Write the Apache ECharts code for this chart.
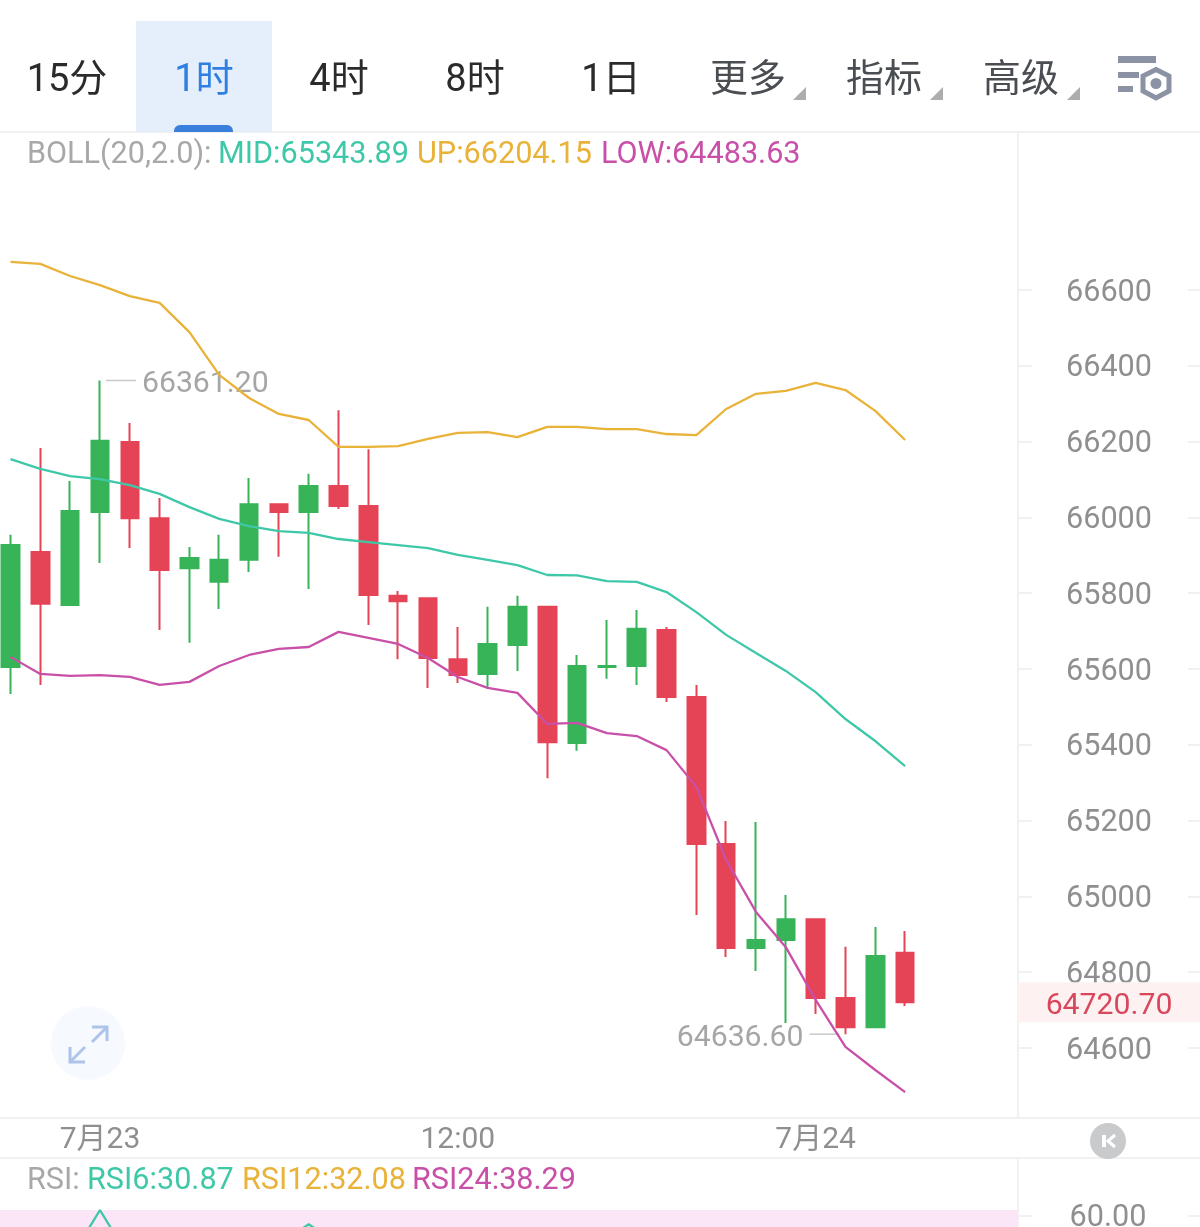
<!DOCTYPE html>
<html lang="zh">
<head>
<meta charset="utf-8">
<title>BTC 1时 K线</title>
<style>html,body{margin:0;padding:0;background:#fff}#chart{width:1200px;height:1227px}</style>
<script src="https://cdn.jsdelivr.net/npm/echarts@6/dist/echarts.min.js"></script>
</head>
<body>
<div id="chart"></div>
<script>
// Hourly candles, from 21:00 on the previous day to 03:00 on 7月24
const categories = ['21:00','22:00','23:00','7月23','01:00','02:00','03:00','04:00','05:00','06:00','07:00','08:00','09:00','10:00','11:00','12:00','13:00','14:00','15:00','16:00','17:00','18:00','19:00','20:00','21:00','22:00','23:00','7月24','01:00','02:00','03:00','04:00','05:00','06:00'];
const timeTickLabels = ['7月23','12:00','7月24'];

const opens  = [65605,65909,65769,66014,66199,65998,65866,65830,65888,66035,66014,66083,66030,65793,65787,65626,65587,65663,65764,65405,65605,65608,65703,65526,65138,64864,64885,64940,64732,64655,64851];
const closes = [65927,65772,66017,66202,65998,65861,65893,65888,66035,66014,66083,66030,65795,65779,65629,65584,65666,65764,65407,65608,65608,65706,65526,65138,64864,64885,64940,64732,64655,64843,64720.7];
const lows   = [65534,65558,65769,65880,65919,65703,65669,65758,65856,65896,65811,66022,65716,65626,65550,65563,65550,65595,65312,65384,65574,65558,65513,64951,64840,64803,64666,64690,64636.6,64655,64711];
const highs  = [65954,66183,66096,66361.2,66249,66051,65922,65954,66104,66035,66115,66283,66180,65806,65787,65711,65764,65793,65764,65637,65729,65756,65711,65558,65199,65196,65004,64940,64867,64919,64909];

const bollUp  = [66674,66669,66637,66613,66584,66566,66489,66376,66315,66273,66257,66186,66186,66188,66207,66223,66225,66212,66239,66239,66233,66233,66220,66217,66286,66326,66334,66355,66336,66281,66204.15];
const bollMid = [66154,66128,66109,66101,66085,66062,66027,65996,65977,65964,65959,65943,65935,65927,65919,65901,65888,65874,65848,65847,65832,65830,65803,65750,65690,65642,65595,65539,65468,65410,65343.89];
const bollLow = [65632,65587,65582,65584,65579,65558,65566,65608,65637,65653,65658,65698,65682,65666,65629,65579,65550,65537,65455,65458,65431,65423,65386,65289,65096,64959,64866,64727,64603,64542,64483.63];

const priceTicks = [66600,66400,66200,66000,65800,65600,65400,65200,65000,64800,64600];
const rsiTicks = [60];

// RSI6 only shows above the bottom edge around two peaks
const rsi6PeakA = [[2,45],[3,61.9],[4,45]];
const rsi6PeakB = [[9,50],[10,57],[11,50]];
const rsiLegend = [['RSI6',30.87],['RSI12',32.08],['RSI24',38.29]];

const extremes = [[3,66361.2,'right'],[28,64636.6,'left']];
const lastPrice = [[30,64720.7]];

const tabs = ['15分','1时','4时','8时','1日','更多','指标','高级'];

const FONT = 'Roboto, "Noto Sans CJK SC", sans-serif';
const TEAL = '#3fc8a8', AMBER = '#e9b238', PINK = '#c950a8';
const UP_GREEN = '#37b358', DOWN_RED = '#e54356';
const RULE = '#f1f1f1';
const TEXT_SIZE = 30.6;
const LINE_WIDTH = 2.3;

const candleData = opens.map((o, i) => [o, closes[i], lows[i], highs[i]]);

function label(text, x, y, size, fill, align) {
  return { type: 'text', z: 50, style: { text, x, y, fill, fontSize: size, fontFamily: FONT, align: align || 'left', verticalAlign: 'middle' } };
}
function hline(y) {
  return { type: 'line', z: 5, shape: { x1: 0, y1: y, x2: 1200, y2: y }, style: { stroke: RULE, lineWidth: 2 } };
}
function corner(x) {
  return { type: 'polygon', z: 50, shape: { points: [[x + 13, 87], [x + 13, 100], [x, 100]] }, style: { fill: '#adadad' } };
}

const tabCentres = [67, 204, 339, 475, 611, 748, 884, 1021];
const tabColours = ['#2b2b2b', '#2f7fe0', '#2b2b2b', '#2b2b2b', '#2b2b2b', '#4a4d52', '#4a4d52', '#4a4d52'];

const ICON = '#8a92a3', ARROW = '#aec3ea';
const chrome = [
  // active tab
  { type: 'rect', z: 40, shape: { x: 136, y: 21, width: 136, height: 111 }, style: { fill: '#e5effc' } },
  { type: 'rect', z: 41, shape: { x: 174, y: 125, width: 59, height: 7, r: [6, 6, 0, 0] }, style: { fill: '#3a7fdc' } },
  hline(132), hline(1118), hline(1158),
  corner(793), corner(930), corner(1067),
  // settings icon
  { type: 'rect', z: 50, shape: { x: 1118, y: 56, width: 38, height: 7 }, style: { fill: ICON } },
  { type: 'rect', z: 50, shape: { x: 1118, y: 72, width: 21, height: 6 }, style: { fill: ICON } },
  { type: 'rect', z: 50, shape: { x: 1118, y: 86, width: 15, height: 6 }, style: { fill: ICON } },
  { type: 'polygon', z: 50, shape: { points: [[1156, 69.5], [1169, 76], [1169, 91], [1156, 98], [1143, 91], [1143, 76]] }, style: { fill: '#fff', stroke: ICON, lineWidth: 5 } },
  { type: 'circle', z: 51, shape: { cx: 1156, cy: 83.5, r: 5.5 }, style: { fill: ICON } },
  // expand button
  { type: 'circle', z: 50, shape: { cx: 88, cy: 1043, r: 37 }, style: { fill: '#f6f9fe' } },
  { type: 'polyline', z: 51, shape: { points: [[92, 1027], [107, 1027], [107, 1041]] }, style: { stroke: ARROW, lineWidth: 3, fill: 'none' } },
  { type: 'line', z: 51, shape: { x1: 107, y1: 1027, x2: 92, y2: 1042 }, style: { stroke: ARROW, lineWidth: 3 } },
  { type: 'polyline', z: 51, shape: { points: [[70, 1047], [70, 1062], [85, 1062]] }, style: { stroke: ARROW, lineWidth: 3, fill: 'none' } },
  { type: 'line', z: 51, shape: { x1: 70, y1: 1062, x2: 85, y2: 1047 }, style: { stroke: ARROW, lineWidth: 3 } },
  // chart-type toggle
  { type: 'circle', z: 50, shape: { cx: 1108, cy: 1141, r: 18 }, style: { fill: '#c9cacc' } },
  { type: 'rect', z: 51, shape: { x: 1102, y: 1135, width: 4, height: 12 }, style: { fill: '#fff' } },
  { type: 'polyline', z: 51, shape: { points: [[1115, 1135], [1108, 1141], [1115, 1147]] }, style: { stroke: '#fff', lineWidth: 3, fill: 'none' } },
  // legends
  label('BOLL(20,2.0):', 27, 155.5, TEXT_SIZE, '#a8a8a8'),
  label('MID:' + bollMid[bollMid.length - 1].toFixed(2), 218, 155.5, TEXT_SIZE, TEAL),
  label('UP:' + bollUp[bollUp.length - 1].toFixed(2), 417, 155.5, TEXT_SIZE, AMBER),
  label('LOW:' + bollLow[bollLow.length - 1].toFixed(2), 601, 155.5, TEXT_SIZE, PINK),
  label('RSI:', 27, 1181, TEXT_SIZE, '#a8a8a8'),
  label(rsiLegend[0][0] + ':' + rsiLegend[0][1].toFixed(2), 87, 1181, TEXT_SIZE, TEAL),
  label(rsiLegend[1][0] + ':' + rsiLegend[1][1].toFixed(2), 242, 1181, TEXT_SIZE, AMBER),
  label(rsiLegend[2][0] + ':' + rsiLegend[2][1].toFixed(2), 412, 1181, TEXT_SIZE, PINK)
];
tabs.forEach((t, i) => chrome.push(label(t, tabCentres[i], 81, 38, tabColours[i], 'center')));

// Price pane: first candle centred at x=10.5, 29.82px per candle, 0.379px per price unit
const gridLeft = 10.5, bandWidth = 29.82;
const priceGridWidth = bandWidth * (categories.length - 1);
const priceGridRight = gridLeft + priceGridWidth;
const rsiXMin = -gridLeft / bandWidth, rsiXMax = (1018 - gridLeft) / bandWidth;

function rightTicks(gridIndex, values, offset) {
  return {
    type: 'value', gridIndex, position: 'right', offset, scale: true,
    axisLine: { show: false, onZero: false }, axisLabel: { show: false }, splitLine: { show: false },
    axisTick: { show: true, length: 12, customValues: values, lineStyle: { color: RULE, width: 2 } }
  };
}
const priceMin = 64415.3, priceMax = 67016.9;
const rsiMin = 56.04, rsiMax = 80;

// axis labels sit a little below their tick, so each is a rich token with top padding
const loweredLabel = { v: { color: '#8f8f8f', fontSize: TEXT_SIZE, fontFamily: FONT, padding: [6, 0, 0, 0] } };

const option = {
  animation: false,
  backgroundColor: '#fff',
  textStyle: { fontFamily: FONT },
  graphic: { elements: chrome },
  grid: [
    { left: gridLeft, top: 132, width: priceGridWidth, height: 986, outerBoundsMode: 'none' },
    { left: 0, top: 1158, width: 1018, height: 69, outerBoundsMode: 'none' }
  ],
  xAxis: [
    {
      type: 'category', gridIndex: 0, data: categories, boundaryGap: false,
      axisLine: { show: false }, axisTick: { show: false }, splitLine: { show: false },
      axisLabel: {
        color: '#8f8f8f', fontSize: 30, fontFamily: FONT, margin: 7,
        interval: (i, name) => timeTickLabels.includes(name) && (i === 3 || i === 15 || i === 27)
      }
    },
    { type: 'value', gridIndex: 1, min: rsiXMin, max: rsiXMax, show: false, axisLine: { onZero: false } }
  ],
  yAxis: [
    {
      type: 'value', gridIndex: 0, position: 'right', offset: 1018 - priceGridRight, min: priceMin, max: priceMax,
      axisLine: { show: true, onZero: false, lineStyle: { color: RULE, width: 2 } },
      axisTick: { show: true, length: 14, customValues: priceTicks, lineStyle: { color: RULE, width: 2 } },
      splitLine: { show: false },
      axisLabel: { customValues: priceTicks, margin: 91, align: 'center', rich: loweredLabel, formatter: v => '{v|' + v + '}' }
    },
    Object.assign(rightTicks(0, priceTicks, 1188 - priceGridRight), { min: priceMin, max: priceMax }),
    {
      type: 'value', gridIndex: 1, position: 'right', min: rsiMin, max: rsiMax,
      axisLine: { show: true, onZero: false, lineStyle: { color: RULE, width: 2 } },
      axisTick: { show: true, length: 14, customValues: rsiTicks, lineStyle: { color: RULE, width: 2 } },
      splitLine: { show: false },
      axisLabel: { customValues: rsiTicks, margin: 90, align: 'center', rich: loweredLabel, formatter: v => '{v|' + v.toFixed(2) + '}' }
    },
    Object.assign(rightTicks(1, rsiTicks, 170), { min: rsiMin, max: rsiMax })
  ],
  series: [
    {
      type: 'candlestick', xAxisIndex: 0, yAxisIndex: 0, data: candleData, barWidth: 18, z: 2, clip: false,
      itemStyle: { color: UP_GREEN, color0: DOWN_RED, borderColor: UP_GREEN, borderColor0: DOWN_RED, borderWidth: 2 }
    },
    { type: 'line', xAxisIndex: 0, yAxisIndex: 0, data: bollMid, symbol: 'none', z: 3, lineStyle: { color: TEAL, width: LINE_WIDTH } },
    { type: 'line', xAxisIndex: 0, yAxisIndex: 0, data: bollUp, symbol: 'none', z: 3, lineStyle: { color: AMBER, width: LINE_WIDTH } },
    { type: 'line', xAxisIndex: 0, yAxisIndex: 0, data: bollLow, symbol: 'none', z: 3, lineStyle: { color: PINK, width: LINE_WIDTH } },
    {
      // high and low callouts beside their candles
      type: 'custom', xAxisIndex: 0, yAxisIndex: 0, data: extremes, z: 1, clip: false,
      renderItem(params, api) {
        const pt = api.coord([api.value(0), api.value(1)]);
        const dir = extremes[params.dataIndex][2] === 'right' ? 1 : -1;
        return {
          type: 'group',
          children: [
            { type: 'line', shape: { x1: pt[0] + dir * 6, y1: pt[1], x2: pt[0] + dir * 36, y2: pt[1] }, style: { stroke: '#c8c8c8', lineWidth: 1.5 } },
            { type: 'text', style: { text: api.value(1).toFixed(2), x: pt[0] + dir * 42, y: pt[1] + 4, fill: '#a6a6a6', fontSize: 30.2, fontFamily: FONT, align: dir > 0 ? 'left' : 'right', verticalAlign: 'middle' } }
          ]
        };
      }
    },
    {
      // latest price tag on the axis
      type: 'custom', xAxisIndex: 0, yAxisIndex: 0, data: lastPrice, z: 6, clip: false,
      renderItem(params, api) {
        const y = api.coord([api.value(0), api.value(1)])[1];
        return {
          type: 'group',
          children: [
            { type: 'rect', shape: { x: 1018, y: y - 20, width: 182, height: 40 }, style: { fill: '#fdf1f1' } },
            { type: 'text', style: { text: api.value(1).toFixed(2), x: 1109, y: y + 4, fill: '#d9475c', fontSize: 30.2, fontFamily: FONT, align: 'center', verticalAlign: 'middle' } }
          ]
        };
      }
    },
    {
      type: 'line', xAxisIndex: 1, yAxisIndex: 2, data: rsi6PeakA, symbol: 'none', z: 3, lineStyle: { color: TEAL, width: LINE_WIDTH },
      markArea: { silent: true, itemStyle: { color: '#fbe6f7' }, data: [[{ xAxis: rsiXMin, yAxis: 61.94 }, { xAxis: rsiXMax, yAxis: rsiMin }]] }
    },
    { type: 'line', xAxisIndex: 1, yAxisIndex: 2, data: rsi6PeakB, symbol: 'none', z: 3, lineStyle: { color: TEAL, width: LINE_WIDTH } }
  ]
};

echarts.init(document.getElementById('chart'), null, { renderer: 'canvas' }).setOption(option);
</script>
</body>
</html>
